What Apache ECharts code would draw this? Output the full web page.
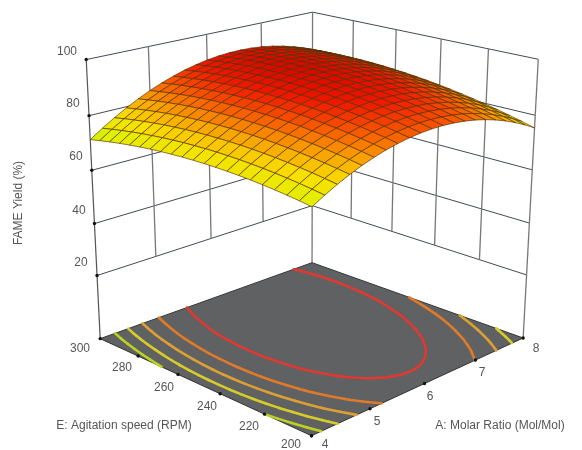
<!DOCTYPE html>
<html><head><meta charset="utf-8">
<style>html,body{margin:0;padding:0;background:#fff}#c{width:582px;height:450px;filter:blur(0.55px)}</style>
<script src="https://cdn.jsdelivr.net/npm/echarts@6/dist/echarts.min.js"></script></head>
<body><div id="c"></div>
<script>
const molarTicks=[4,5,6,7,8];
const speedTicks=[200,220,240,260,280,300];
const yieldTicks=[20,40,60,80,100];
const contourLevels=[75,78,81,84,88];
const contourColors=['#bcd21e','#d8cc28','#dca032','#de7a2a','#dc3a32'];
const colorStops=[70,74,78,82,86,90,94];
const colorValues=['#b8f000','#e0f000','#f8e000','#f8a800','#f86000','#f01800','#d00000'];
// draft
const molarGrid=[],speedGrid=[];for(let i=0;i<=20;i++){molarGrid.push(4+i*.2);speedGrid.push(200+i*5);}
const surfaceRows=speedGrid.map(E=>molarGrid.map(A=>{const a=(A-6)/2,e=(E-250)/50;return 92+4.05*a+1.985*e-12.15*a*a-3.64*e*e+2.85*a*e;}));

const zFloor=-5;
const anchors=[[0,0,0,312,436],[1,0,0,523,338],[0,1,0,100,338],[1,1,0,312,263],[0,1,1,86,60],[1,0,1,538,59],[1,1,1,313,12]];
function solve(A,b){const n=b.length;for(let i=0;i<n;i++){let p=i;for(let r=i+1;r<n;r++)if(Math.abs(A[r][i])>Math.abs(A[p][i]))p=r;[A[i],A[p]]=[A[p],A[i]];[b[i],b[p]]=[b[p],b[i]];for(let r=i+1;r<n;r++){const f=A[r][i]/A[i][i];for(let c=i;c<n;c++)A[r][c]-=f*A[i][c];b[r]-=f*b[i];}}const x=Array(n).fill(0);for(let i=n-1;i>=0;i--){let s=b[i];for(let c=i+1;c<n;c++)s-=A[i][c]*x[c];x[i]=s/A[i][i];}return x;}
const cam=(function(){const R=[],Y=[];anchors.forEach(([u,v,w,x,y])=>{R.push([u,v,w,1,0,0,0,0,-x*u,-x*v,-x*w]);Y.push(x);R.push([0,0,0,0,u,v,w,1,-y*u,-y*v,-y*w]);Y.push(y);});const n=11,N=[],B=[];for(let i=0;i<n;i++){N.push(Array(n).fill(0));B.push(0);for(let j=0;j<n;j++)R.forEach(r=>N[i][j]+=r[i]*r[j]);R.forEach((r,k)=>B[i]+=r[i]*Y[k]);}return solve(N,B);})();
function proj(u,v,w){const d=cam[8]*u+cam[9]*v+cam[10]*w+1;return [(cam[0]*u+cam[1]*v+cam[2]*w+cam[3])/d,(cam[4]*u+cam[5]*v+cam[6]*w+cam[7])/d];}
const U=A=>(A-molarTicks[0])/(molarTicks[4]-molarTicks[0]);
const V=E=>(E-speedTicks[0])/(speedTicks[5]-speedTicks[0]);
const W=z=>(z-zFloor)/(100-zFloor);
function hex(c){return [parseInt(c.slice(1,3),16),parseInt(c.slice(3,5),16),parseInt(c.slice(5,7),16)];}
function colorOf(z){const s=colorStops;if(z<=s[0])return colorValues[0];for(let i=1;i<s.length;i++)if(z<=s[i]){const t=(z-s[i-1])/(s[i]-s[i-1]),p=hex(colorValues[i-1]),q=hex(colorValues[i]);return 'rgb('+p.map((x,k)=>Math.round(x+(q[k]-x)*t)).join(',')+')';}return colorValues[colorValues.length-1];}

// wall lines
const wallLines=[];
yieldTicks.forEach(z=>{wallLines.push([0,1,W(z),1,1,W(z),'#444a55',1]);wallLines.push([1,1,W(z),1,0,W(z),'#444a55',1]);});
molarTicks.forEach(A=>{if(A>molarTicks[0])wallLines.push([U(A),1,A===8?0:W(20),U(A),1,1,'#777',1.3]);});
wallLines.push([0,1,0,0,1,1,'#555',1.2]);
speedTicks.forEach(E=>{if(E<300)wallLines.push([1,V(E),E===200?0:W(20),1,V(E),1,'#777',1.3]);});

// contours by marching squares
const contourSegs=[];
contourLevels.forEach((lv,li)=>{for(let r=0;r<speedGrid.length-1;r++)for(let c=0;c<molarGrid.length-1;c++){
 const p=[[molarGrid[c],speedGrid[r],surfaceRows[r][c]],[molarGrid[c+1],speedGrid[r],surfaceRows[r][c+1]],[molarGrid[c+1],speedGrid[r+1],surfaceRows[r+1][c+1]],[molarGrid[c],speedGrid[r+1],surfaceRows[r+1][c]]];
 const hits=[];for(let k=0;k<4;k++){const a=p[k],b=p[(k+1)%4];if((a[2]<lv)!==(b[2]<lv)){const t=(lv-a[2])/(b[2]-a[2]);hits.push([a[0]+(b[0]-a[0])*t,a[1]+(b[1]-a[1])*t]);}}
 for(let h=0;h+1<hits.length;h+=2)contourSegs.push([hits[h],hits[h+1],li]);
}});
// surface cells, far to near
const cells=[];for(let r=speedGrid.length-2;r>=0;r--)for(let c=molarGrid.length-2;c>=0;c--)cells.push([r,c]);

const labels=[];
const font='12px "Liberation Sans",Arial,sans-serif';
const pushTxt=(t,x,y,rot)=>labels.push([t,x,y,rot||0]);
const zLab=[[81,263],[79,211],[76,157],[73,104],[67,52]];
yieldTicks.forEach((z,i)=>pushTxt(String(z),zLab[i][0],zLab[i][1]));
const eLab=[[291,445],[249,427],[207,407],[164,388],[122,368],[80,349]];
speedTicks.forEach((E,i)=>pushTxt(String(E),eLab[i][0],eLab[i][1]));
const aLab=[[325,445],[377,422],[430,397],[482,373],[536,349]];
molarTicks.forEach((A,i)=>pushTxt(String(A),aLab[i][0],aLab[i][1]));
pushTxt('FAME Yield (%)',19,203,Math.PI/2);
pushTxt('E: Agitation speed (RPM)',124,426);
pushTxt('A: Molar Ratio (Mol/Mol)',500,426);

const dots=[];
yieldTicks.forEach(z=>dots.push([0,1,W(z)]));
speedTicks.forEach(E=>dots.push([0,V(E),0]));
molarTicks.forEach(A=>dots.push([U(A),0,0]));

const P=(api,u,v,w)=>{const p=proj(u,v,w);return api.coord(p);};
const base={type:'custom',coordinateSystem:'cartesian2d',silent:true,animation:false,clip:false,progressive:0,encode:{x:0,y:1}};
const idx=a=>a.map((_,i)=>[i,i]);
const option={animation:false,backgroundColor:'#fff',
 grid:{left:0,top:0,right:0,bottom:0},
 xAxis:{type:'value',min:0,max:582,show:false},
 yAxis:{type:'value',min:0,max:450,inverse:true,show:false},
 series:[
 {...base,name:'walls',data:idx(wallLines),renderItem(p,api){const l=wallLines[p.dataIndex],a=P(api,l[0],l[1],l[2]),b=P(api,l[3],l[4],l[5]);return {type:'line',shape:{x1:a[0],y1:a[1],x2:b[0],y2:b[1]},style:{stroke:l[6],lineWidth:l[7]}};}},
 {...base,name:'floor',data:[[0,0]],renderItem(p,api){return {type:'polygon',shape:{points:[P(api,0,0,0),P(api,1,0,0),P(api,1,1,0),P(api,0,1,0)]},style:{fill:'#5f6163',stroke:'#333',lineWidth:1}};}},
 {...base,name:'contours',data:idx(contourSegs),renderItem(p,api){const s=contourSegs[p.dataIndex],a=P(api,U(s[0][0]),V(s[0][1]),0),b=P(api,U(s[1][0]),V(s[1][1]),0);return {type:'line',shape:{x1:a[0],y1:a[1],x2:b[0],y2:b[1]},style:{stroke:contourColors[s[2]],lineWidth:2.6,lineCap:'round'}};}},
 {...base,name:'ticks',data:idx(dots),renderItem(p,api){const d=dots[p.dataIndex],a=P(api,d[0],d[1],d[2]);return {type:'circle',shape:{cx:a[0],cy:a[1],r:1.7},style:{fill:'#111'}};}},
 {...base,name:'surface',data:idx(cells),renderItem(p,api){const [r,c]=cells[p.dataIndex];const z=surfaceRows;const pt=(rr,cc)=>P(api,U(molarGrid[cc]),V(speedGrid[rr]),W(z[rr][cc]));const m=(z[r][c]+z[r][c+1]+z[r+1][c]+z[r+1][c+1])/4;return {type:'polygon',shape:{points:[pt(r,c),pt(r,c+1),pt(r+1,c+1),pt(r+1,c)]},style:{fill:colorOf(m),stroke:'rgba(80,45,0,0.8)',lineWidth:0.8}};}},
 {...base,name:'labels',data:idx(labels),renderItem(p,api){const t=labels[p.dataIndex],a=api.coord([t[1],t[2]]);return {type:'text',x:a[0],y:a[1],rotation:t[3],style:{text:t[0],font:font,fill:'#555',align:'center',verticalAlign:'middle'}};}}
 ]};
echarts.init(document.getElementById('c'),null,{renderer:'canvas'}).setOption(option);
</script></body></html>
